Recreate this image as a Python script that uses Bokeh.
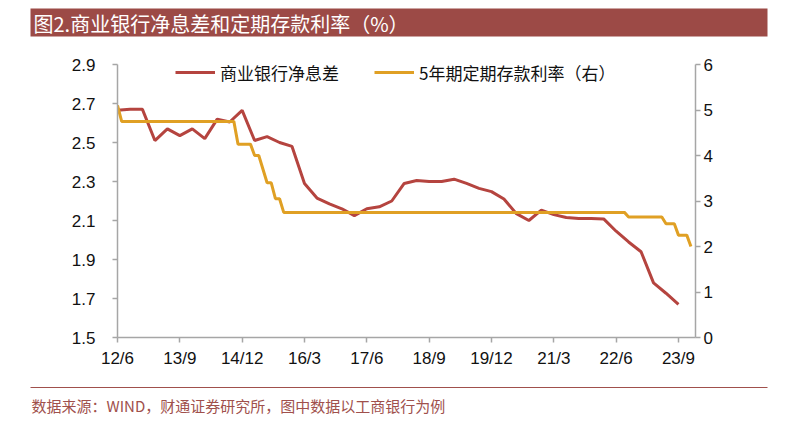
from bokeh.plotting import figure
from bokeh.models import (Range1d, LinearAxis, FixedTicker, NumeralTickFormatter,
                          Legend, LegendItem, ColumnDataSource)
from bokeh.layouts import column
from bokeh.core.properties import value
from bokeh.embed import file_html
from bokeh.resources import INLINE

# ---------------- data ----------------
title_text = "图2.商业银行净息差和定期存款利率（%）"
source_text = "数据来源：WIND，财通证券研究所，图中数据以工商银行为例"
nim_name = "商业银行净息差"
dep_name = "5年期定期存款利率（右）"

nim_dates = ["2012-06", "2012-09", "2012-12", "2013-03", "2013-06", "2013-09",
             "2013-12", "2014-03", "2014-06", "2014-09", "2014-12", "2015-03",
             "2015-06", "2015-09", "2015-12", "2016-03", "2016-06", "2016-09",
             "2016-12", "2017-03", "2017-06", "2017-09", "2017-12", "2018-03",
             "2018-06", "2018-09", "2018-12", "2019-03", "2019-06", "2019-09",
             "2019-12", "2020-03", "2020-06", "2020-09", "2020-12", "2021-03",
             "2021-06", "2021-09", "2021-12", "2022-03", "2022-06", "2022-09",
             "2022-12", "2023-03", "2023-06", "2023-09"]
nim_values = [2.665, 2.67, 2.67, 2.51, 2.57, 2.535,
              2.57, 2.52, 2.62, 2.605, 2.665, 2.51,
              2.53, 2.50, 2.48, 2.29, 2.215, 2.185,
              2.16, 2.125, 2.16, 2.17, 2.20, 2.29,
              2.305, 2.30, 2.30, 2.312, 2.29, 2.265,
              2.248, 2.21, 2.135, 2.10, 2.153, 2.13,
              2.115, 2.11, 2.11, 2.108, 2.045, 1.99,
              1.94, 1.78, 1.727, 1.67]

dep_dates = ["2012-06", "2012-07", "2014-10", "2014-11", "2015-02", "2015-03",
             "2015-04", "2015-06", "2015-07", "2015-08", "2015-09", "2015-10",
             "2022-08", "2022-09", "2023-05", "2023-06", "2023-08", "2023-09",
             "2023-11", "2023-12"]
dep_values = [5.10, 4.75, 4.75, 4.25, 4.25, 4.00,
              4.00, 3.40, 3.40, 3.05, 3.05, 2.75,
              2.75, 2.65, 2.65, 2.50, 2.50, 2.25,
              2.25, 2.00]

tick_dates = ["2012-06", "2013-09", "2014-12", "2016-03", "2017-06",
              "2018-09", "2019-12", "2021-03", "2022-06", "2023-09"]
tick_labels = ["12/6", "13/9", "14/12", "16/3", "17/6",
               "18/9", "19/12", "21/3", "22/6", "23/9"]
left_ticks = [1.5, 1.7, 1.9, 2.1, 2.3, 2.5, 2.7, 2.9]
right_ticks = [0, 1, 2, 3, 4, 5, 6]

# ---------------- helpers ----------------
def month_index(d):
    y, m = d.split("-")
    return (int(y) - 2012) * 12 + (int(m) - 6)

RED = "#B5443F"
GOLD = "#E0A024"
BAR = "#9C4A46"
SRC = "#A0504C"
AXIS = "#A6A6A6"
NUM_FONT = "Liberation Sans"
CJK_FONT = "Noto Sans CJK SC"

# ---------------- header ----------------
head = figure(width=797, height=40, x_range=Range1d(0, 797), y_range=Range1d(40, 0),
              x_axis_type=None, y_axis_type=None, output_backend="svg",
              toolbar_location=None, min_border=0, outline_line_color=None)
head.frame_align = False
head.grid.visible = False
head.quad(left=[30], right=[767], top=[8], bottom=[36], fill_color=BAR, line_color=None)
head.text(x=[33], y=[22.5], text=[title_text], text_baseline="middle",
          text_font=value(CJK_FONT), text_font_size="20px", text_color="white")

# ---------------- main ----------------
src_nim = ColumnDataSource(dict(x=[month_index(d) for d in nim_dates], y=nim_values))
src_dep = ColumnDataSource(dict(x=[month_index(d) for d in dep_dates], y=dep_values))

p = figure(width=797, height=340, x_range=Range1d(0, 139.1), y_range=Range1d(1.5, 2.9),
           output_backend="svg", toolbar_location=None,
           min_border_left=117, min_border_right=102, min_border_top=24,
           min_border_bottom=43, outline_line_color=None)
p.frame_align = False
p.grid.visible = False
p.extra_y_ranges = {"right": Range1d(0, 6)}

r_nim = p.line("x", "y", source=src_nim, line_color=RED, line_width=3)
r_dep = p.line("x", "y", source=src_dep, line_color=GOLD, line_width=3,
               y_range_name="right")

def style_axis(ax):
    ax.axis_line_color = AXIS
    ax.axis_line_width = 1.5
    ax.major_tick_line_color = AXIS
    ax.major_tick_line_width = 1.5
    ax.major_tick_out = 5
    ax.major_tick_in = 0
    ax.minor_tick_line_color = None
    ax.major_label_text_font = NUM_FONT
    ax.major_label_text_font_size = "17px"
    ax.major_label_text_color = "#111111"

xa = p.xaxis[0]
xa.ticker = FixedTicker(ticks=[month_index(d) for d in tick_dates])
xa.major_label_overrides = {month_index(d): lab for d, lab in zip(tick_dates, tick_labels)}
style_axis(xa)
xa.major_label_standoff = 6

ya = p.yaxis[0]
ya.ticker = FixedTicker(ticks=left_ticks)
ya.formatter = NumeralTickFormatter(format="0.0")
style_axis(ya)
ya.major_label_standoff = 17

yr = LinearAxis(y_range_name="right", ticker=FixedTicker(ticks=right_ticks))
style_axis(yr)
yr.major_label_standoff = 3
p.add_layout(yr, "right")

legend = Legend(items=[LegendItem(label=nim_name, renderers=[r_nim]),
                       LegendItem(label=dep_name, renderers=[r_dep])],
                orientation="horizontal", location=(58, 252),
                glyph_width=40, glyph_height=26, label_height=26,
                label_standoff=5, spacing=35,
                padding=0, margin=0, border_line_color=None,
                background_fill_alpha=0, label_text_font=CJK_FONT,
                label_text_font_size="17px", label_text_color="#111111")
p.add_layout(legend)

# ---------------- footer ----------------
foot = figure(width=797, height=48, x_range=Range1d(0, 797), y_range=Range1d(48, 0),
              x_axis_type=None, y_axis_type=None, output_backend="svg",
              toolbar_location=None, min_border=0, outline_line_color=None)
foot.frame_align = False
foot.grid.visible = False
foot.segment(x0=[30], x1=[767], y0=[7], y1=[7], line_color=SRC, line_width=1)
foot.text(x=[31], y=[25], text=[source_text], text_baseline="middle",
          text_font=value(CJK_FONT), text_font_size="15px", text_color=SRC)

layout = column(head, p, foot, spacing=0)
open("out.html", "w").write(file_html(layout, INLINE))
